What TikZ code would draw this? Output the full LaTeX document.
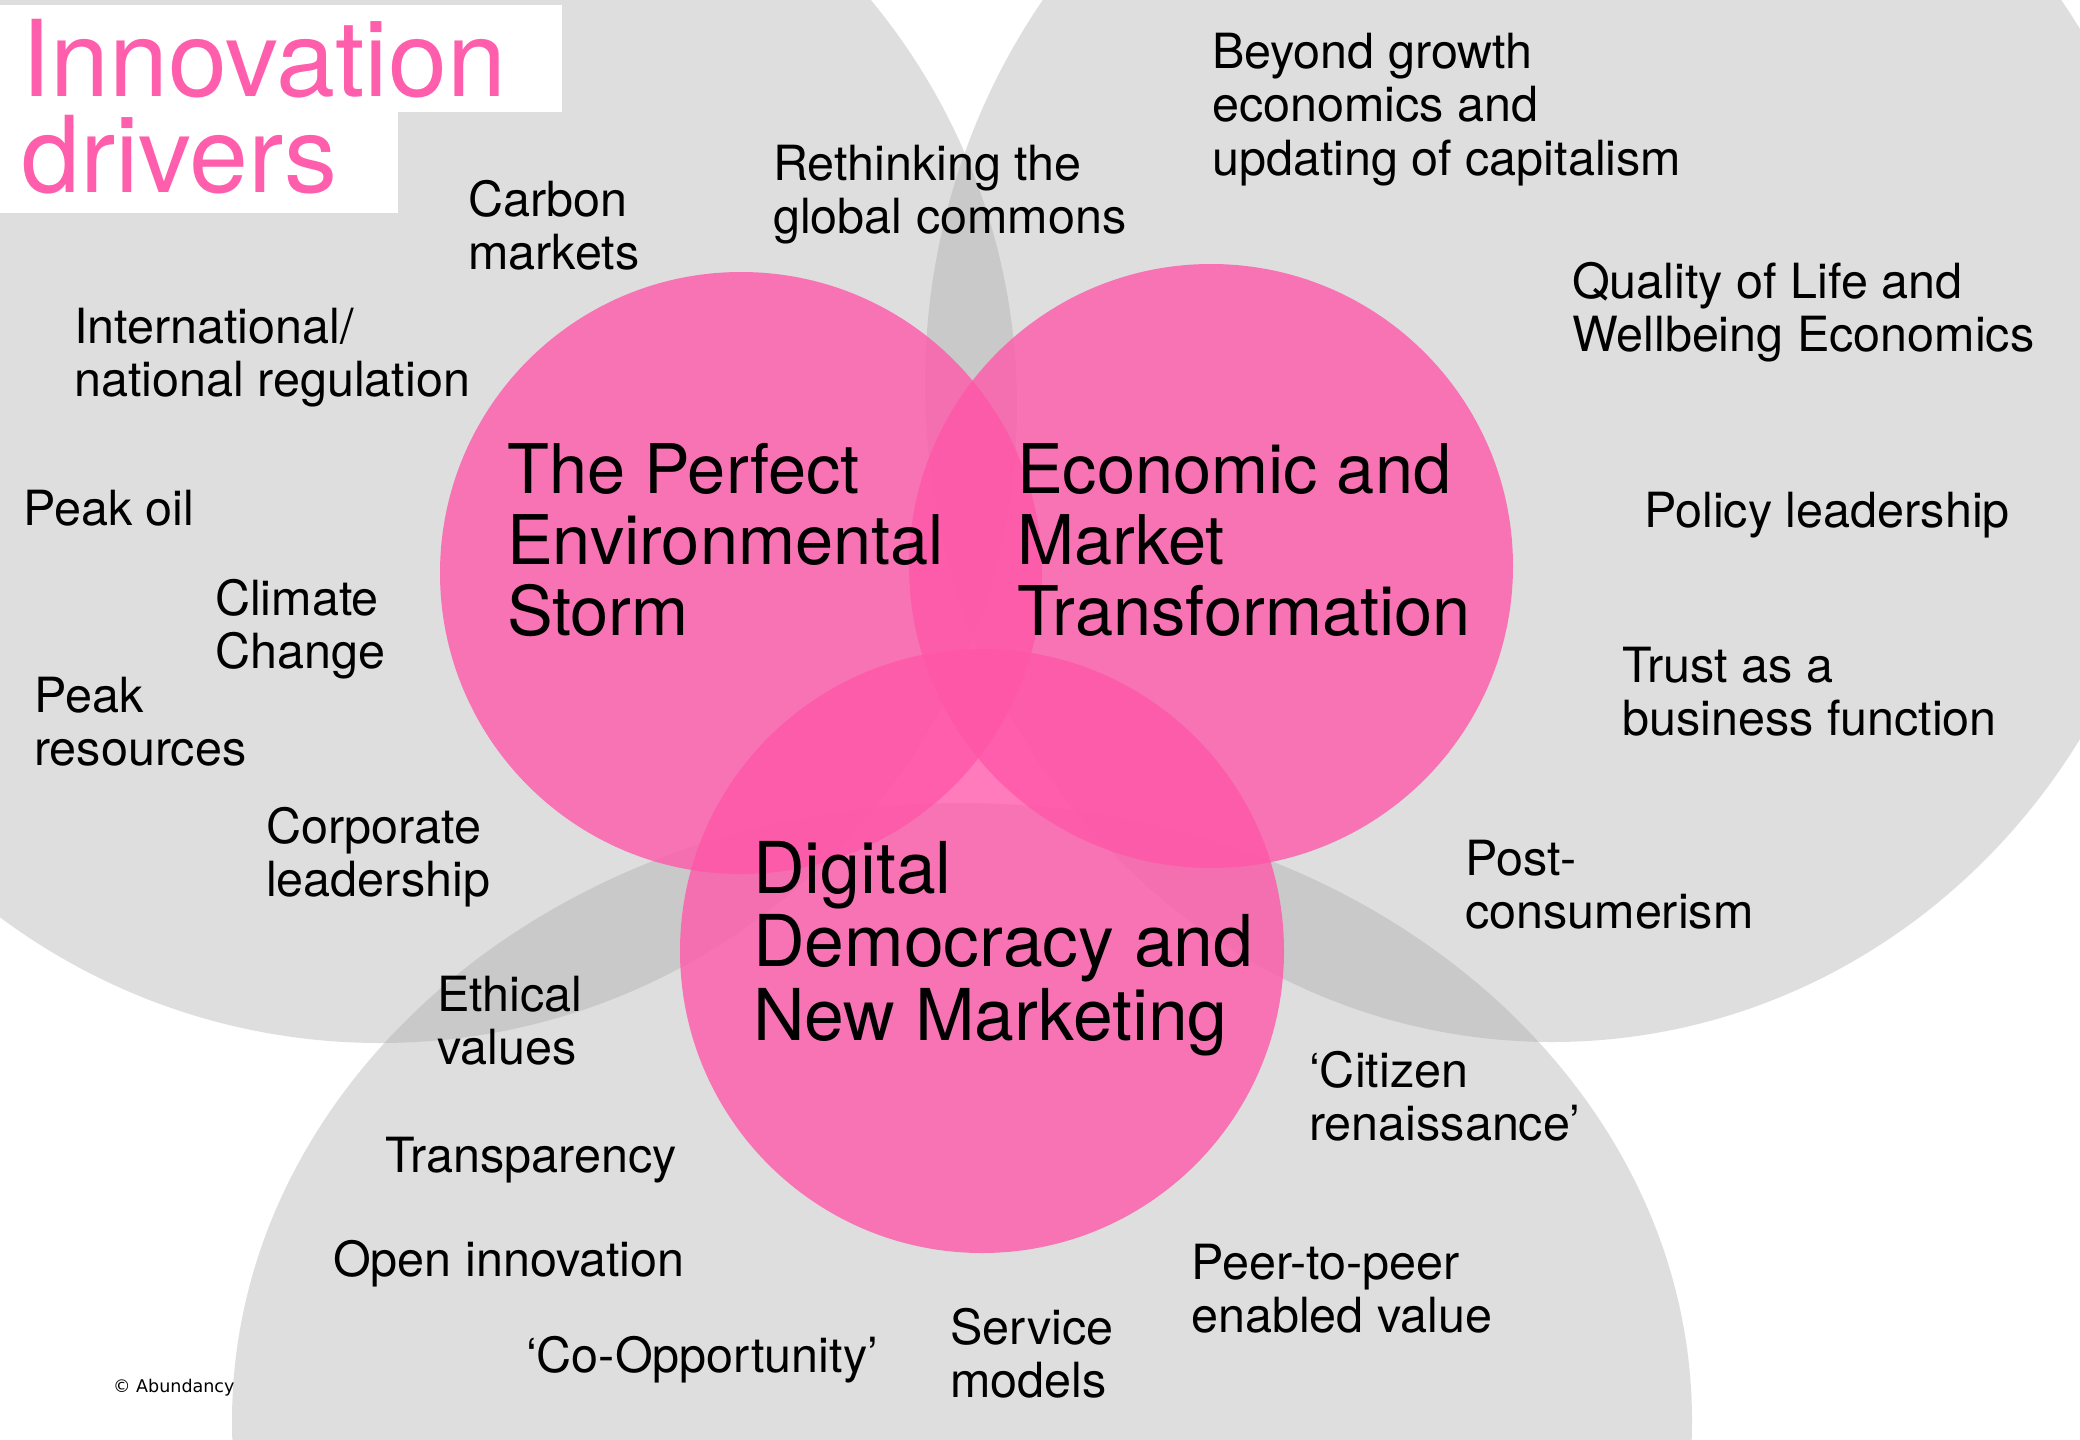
\documentclass[tikz,border=0pt]{standalone}
\usepackage{fontspec}
\setmainfont{TeX Gyre Heros}
\newfontfamily\copyfont{DejaVu Sans}
\definecolor{greyc}{RGB}{162,162,162}
\definecolor{pinkc}{RGB}{255,86,168}
\definecolor{titlepink}{RGB}{255,94,172}
\begin{document}
\begin{tikzpicture}[x=1pt,y=-1pt,
  greydisc/.style={fill=greyc,fill opacity=0.344,draw=none},
  pinkdisc/.style={fill=pinkc,fill opacity=0.78,draw=none},
  lbl/.style={anchor=base west,inner sep=0pt,font=\fontsize{48.5}{53.5}\selectfont},
  bigl/.style={anchor=base west,inner sep=0pt,font=\fontsize{68.5}{71}\selectfont},
  bigd/.style={anchor=base west,inner sep=0pt,font=\fontsize{71.5}{73.5}\selectfont},
  ttl/.style={anchor=base west,inner sep=0pt,text=titlepink,font=\fontsize{106}{96}\selectfont},
]
\useasboundingbox (0,0) rectangle (2080,1440);
\fill[white] (0,0) rectangle (2080,1440);
\clip (0,0) rectangle (2080,1440);
% grey background discs
\fill[greydisc] (380,406) circle [radius=637pt];
\fill[greydisc] (1552,384) ellipse [x radius=627pt, y radius=658pt];
\fill[greydisc] (962,1421) ellipse [x radius=730pt, y radius=618pt];
% pink discs
\fill[pinkdisc] (741,573) circle [radius=301pt];
\fill[pinkdisc] (1211,566) circle [radius=302pt];
\fill[pinkdisc] (982,951) circle [radius=302pt];
% title boxes
\fill[white] (0,5) rectangle (562,112);
\fill[white] (0,112) rectangle (398,213);
\node[ttl] (t1) at (21,96) {Innovation};
\node[ttl] (t2) at (21,192) {drivers};
% circle titles
\node[bigl] (storm) at (507,493) {\vtop{\hbox{The Perfect}\hbox{Environmental}\hbox{Storm}}};
\node[bigl] (econ) at (1017,493) {\vtop{\hbox{Economic and}\hbox{Market}\hbox{Transformation}}};
\node[bigd] (digital) at (753,893) {\vtop{\hbox{Digital}\hbox{Democracy and}\hbox{New Marketing}}};
% labels
\node[lbl] (carbon) at (468,216) {\vtop{\hbox{Carbon}\hbox{markets}}};
\node[lbl] (intl) at (74,343) {\vtop{\hbox{International/}\hbox{national regulation}}};
\node[lbl] (rethink) at (773,180) {\vtop{\hbox{Rethinking the}\hbox{global commons}}};
\node[lbl] (beyond) at (1212,68) {\vtop{\hbox{Beyond growth}\hbox{economics and}\hbox{updating of capitalism}}};
\node[lbl] (quality) at (1572,298) {\vtop{\hbox{Quality of Life and}\hbox{Wellbeing Economics}}};
\node[lbl] (policy) at (1644,527) {Policy leadership};
\node[lbl] (trust) at (1622,682) {\vtop{\hbox{Trust as a}\hbox{business function}}};
\node[lbl] (post) at (1465,875) {\vtop{\hbox{Post-}\hbox{consumerism}}};
\node[lbl] (citizen) at (1309,1087) {\vtop{\hbox{‘Citizen}\hbox{renaissance’}}};
\node[lbl] (peer) at (1191,1279) {\vtop{\hbox{Peer-to-peer}\hbox{enabled value}}};
\node[lbl] (service) at (950,1344) {\vtop{\hbox{Service}\hbox{models}}};
\node[lbl] (coop) at (526,1372) {‘Co-Opportunity’};
\node[lbl] (open) at (333,1276) {Open innovation};
\node[lbl] (transp) at (385,1172) {Transparency};
\node[lbl] (ethical) at (437,1011) {\vtop{\hbox{Ethical}\hbox{values}}};
\node[lbl] (corporate) at (266,843) {\vtop{\hbox{Corporate}\hbox{leadership}}};
\node[lbl] (peakres) at (34,712) {\vtop{\hbox{Peak}\hbox{resources}}};
\node[lbl] (climate) at (215,615) {\vtop{\hbox{Climate}\hbox{Change}}};
\node[lbl] (peakoil) at (23,525) {Peak oil};
\node[anchor=base west,inner sep=0pt,font=\copyfont\fontsize{17.5}{20}\selectfont] (copy) at (113,1392) {© Abundancy};
\end{tikzpicture}
\end{document}
